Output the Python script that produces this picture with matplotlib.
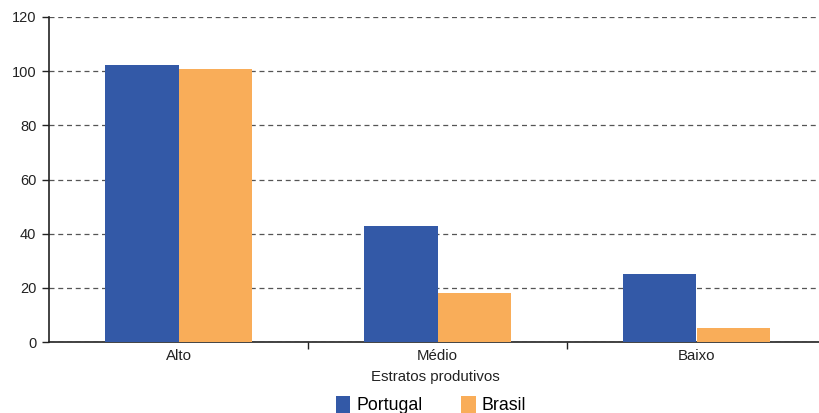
import matplotlib
matplotlib.use("Agg")
import matplotlib.pyplot as plt
from matplotlib.ticker import FixedLocator, NullFormatter
import numpy as np

categories = ["Alto", "Médio", "Baixo"]
portugal = [102.3, 42.8, 25.1]
brasil = [100.8, 18.1, 5.0]
series_names = ["Portugal", "Brasil"]
yticks = [0, 20, 40, 60, 80, 100, 120]

plt.rcParams["font.family"] = ["Liberation Sans", "DejaVu Sans"]

fig = plt.figure(figsize=(8.19, 4.13), dpi=100)
W, H = 819, 413
left, right, top, bottom = 49, 826, 17, 342
ax = fig.add_axes([left / W, 1 - bottom / H, (right - left) / W, (bottom - top) / H])

x = np.arange(len(categories))
bw = 0.285
b1 = ax.bar(x - bw / 2, portugal, bw, color="#3359a7", label=series_names[0], zorder=3)
b2 = ax.bar(x + bw / 2, brasil, bw, color="#f9ad59", label=series_names[1], zorder=3)

ax.set_xlim(-0.5, len(categories) - 0.5)
ax.set_ylim(0, 120)
ax.set_yticks(yticks)
ax.set_yticklabels([str(v) for v in yticks], fontsize=10.5, color="#222222")

ax.set_xticks(x)
ax.set_xticklabels(categories, fontsize=10.8, color="#222222")
ax.tick_params(axis="x", which="major", length=0, pad=5)
ax.xaxis.set_minor_locator(FixedLocator(x[:-1] + 0.5))
ax.xaxis.set_minor_formatter(NullFormatter())
ax.tick_params(axis="x", which="minor", length=5, width=1, color="#222222", direction="out")
ax.tick_params(axis="y", length=5, width=1, color="#222222", pad=4)

ax.yaxis.grid(True, linestyle=(0, (4, 3)), color="#555555", linewidth=0.9, zorder=0)
ax.set_axisbelow(True)

for s in ["top", "right"]:
    ax.spines[s].set_visible(False)
for s in ["left", "bottom"]:
    ax.spines[s].set_color("#222222")
    ax.spines[s].set_linewidth(1.2)

ax.set_xlabel("Estratos produtivos", fontsize=10.8, color="#222222")
ax.xaxis.set_label_coords((435 - left) / (right - left), -0.085)

fig.legend(handles=[b1, b2], labels=series_names, loc="center", ncol=2,
           bbox_to_anchor=(431 / W, 1 - 405 / H), frameon=False, fontsize=12.8,
           handlelength=0.8, handleheight=1.1, handletextpad=0.35, columnspacing=2.2)

fig.savefig("out.png", dpi=100)
